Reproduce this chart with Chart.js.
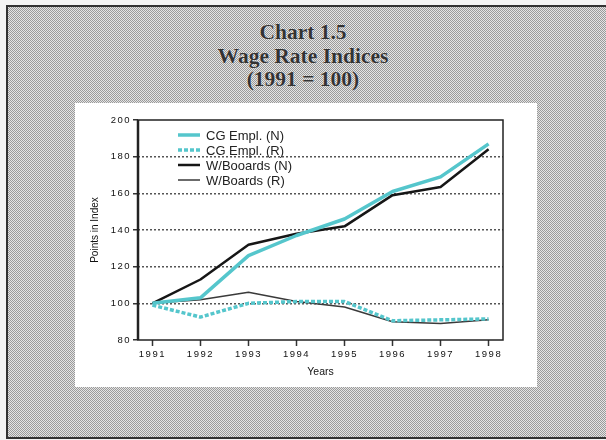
<!DOCTYPE html>
<html>
<head>
<meta charset="utf-8">
<script src="https://cdn.jsdelivr.net/npm/chart.js@4/dist/chart.umd.min.js"></script>
<style>
  html, body { margin: 0; padding: 0; }
  body { width: 606px; height: 440px; position: relative; overflow: hidden; background: #f4f4f4; }
  #frame {
    position: absolute; left: 6px; top: 5px; width: 620px; height: 430px;
    border: 2px solid #333;
    background: repeating-conic-gradient(#9a9a9a 0 25%, #e4e4e4 0 50%) 0 0 / 2px 2px;
  }
  #panel { position: absolute; left: 75px; top: 103px; width: 462px; height: 284px; background: #fff; }
  #title {
    position: absolute; left: 0; top: 21px; width: 606px; text-align: center;
    font-family: "Liberation Serif", "DejaVu Serif", serif; font-weight: bold;
    font-size: 21.5px; line-height: 23.5px; color: #333;
    text-shadow: 0 0 1px #fff;
  }
  canvas { position: absolute; left: 0; top: 0; }
</style>
</head>
<body>
<div id="frame"></div>
<div id="panel"></div>
<div id="title">Chart 1.5<br>Wage Rate Indices<br>(1991 = 100)</div>
<canvas id="c" width="606" height="440"></canvas>
<script>
const years = [1991, 1992, 1993, 1994, 1995, 1996, 1997, 1998];
const cgEmplN = [100, 103, 126, 137, 146, 161, 169, 187];
const cgEmplR = [99, 92.5, 100, 101, 101, 90.5, 91, 91.5];
const wBoardsN = [100, 113, 132, 138, 142, 159, 163.5, 184];
const wBoardsR = [100, 102, 106, 101, 98, 90, 89, 91];
const seriesNames = ['CG Empl. (N)', 'CG Empl. (R)', 'W/Booards (N)', 'W/Boards (R)'];
const yTicks = [80, 100, 120, 140, 160, 180, 200];

const pts = arr => arr.map((v, i) => ({ x: years[i], y: v }));
const CYAN = '#55c6cc';

const frameAndLegend = {
  id: 'frameAndLegend',
  afterUpdate(chart) {
    Object.values(chart.scales).forEach(s => {
      if (s._lsWrapped) return;
      const orig = s.drawLabels;
      s.drawLabels = function (ca) {
        const c = this.ctx; c.save(); c.letterSpacing = '1.5px'; orig.call(this, ca); c.restore();
      };
      s._lsWrapped = true;
    });
  },
  beforeDatasetsDraw(chart) {
    const { ctx, chartArea: a } = chart;
    ctx.save();
    ctx.strokeStyle = '#222';
    ctx.lineWidth = 1.5;
    ctx.strokeRect(a.left, a.top, a.right - a.left, a.bottom - a.top);
    ctx.lineWidth = 2.5;
    ctx.beginPath(); ctx.moveTo(a.left, a.top); ctx.lineTo(a.left, a.bottom); ctx.stroke();
    ctx.restore();
  },
  afterDraw(chart) {
    const { ctx, chartArea: a } = chart;
    ctx.save();
    ctx.font = '13px "Liberation Sans", Arial, sans-serif';
    ctx.fillStyle = '#222';
    ctx.textBaseline = 'middle';
    chart.data.datasets.forEach((ds, i) => {
      const y = a.top + 15 + i * 15;
      const x0 = a.left + 40;
      ctx.save();
      ctx.strokeStyle = ds.borderColor;
      ctx.lineWidth = ds.borderWidth;
      ctx.setLineDash(ds.borderDash || []);
      ctx.beginPath(); ctx.moveTo(x0, y); ctx.lineTo(x0 + 22, y); ctx.stroke();
      ctx.restore();
      ctx.fillText(ds.label, x0 + 28, y + 1);
    });
    ctx.restore();
  }
};

new Chart(document.getElementById('c'), {
  type: 'line',
  data: {
    datasets: [
      { label: seriesNames[0], data: pts(cgEmplN), borderColor: CYAN, borderWidth: 3.5 },
      { label: seriesNames[1], data: pts(cgEmplR), borderColor: CYAN, borderWidth: 3.5, borderDash: [4, 2] },
      { label: seriesNames[2], data: pts(wBoardsN), borderColor: '#161616', borderWidth: 2.5 },
      { label: seriesNames[3], data: pts(wBoardsR), borderColor: '#3a3a3a', borderWidth: 1.5 }
    ]
  },
  options: {
    responsive: false,
    animation: false,
    events: [],
    elements: { point: { radius: 0 }, line: { tension: 0, borderJoinStyle: 'round' } },
    layout: { padding: { left: 85, top: 120, right: 103, bottom: 60 } },
    plugins: { legend: { display: false }, tooltip: { enabled: false }, title: { display: false } },
    scales: {
      x: {
        type: 'linear', min: 1990.7, max: 1998.3,
        afterBuildTicks: s => { s.ticks = years.map(v => ({ value: v })); },
        afterFit: s => { s.height = 40; },
        grid: { drawOnChartArea: false, drawTicks: true, tickLength: 6, tickColor: '#333', tickWidth: 1.5 },
        border: { display: false },
        ticks: { callback: v => String(v), color: '#111', padding: 3, maxRotation: 0, autoSkip: false,
                 font: { family: '"Liberation Sans", Arial, sans-serif', size: 9.5 } },
        title: { display: true, text: 'Years', color: '#111', padding: { top: 0, bottom: 2 },
                 font: { family: '"Liberation Sans", Arial, sans-serif', size: 10.5 } }
      },
      y: {
        min: 80, max: 200,
        afterBuildTicks: s => { s.ticks = yTicks.map(v => ({ value: v })); },
        afterFit: s => { s.width = 53; },
        grid: {
          color: c => (c.tick && (c.tick.value === 80 || c.tick.value === 200)) ? 'rgba(0,0,0,0)' : '#555',
          lineWidth: 1.5, drawTicks: true, tickLength: 5, tickColor: '#333', tickWidth: 1.5
        },
        border: { display: false, dash: [2, 2] },
        ticks: { color: '#111', padding: 2,
                 font: { family: '"Liberation Sans", Arial, sans-serif', size: 9.5 } },
        title: { display: true, text: 'Points in Index', color: '#111', padding: { top: 4, bottom: 0 },
                 font: { family: '"Liberation Sans", Arial, sans-serif', size: 10 } }
      }
    }
  },
  plugins: [frameAndLegend]
});
</script>
</body>
</html>
